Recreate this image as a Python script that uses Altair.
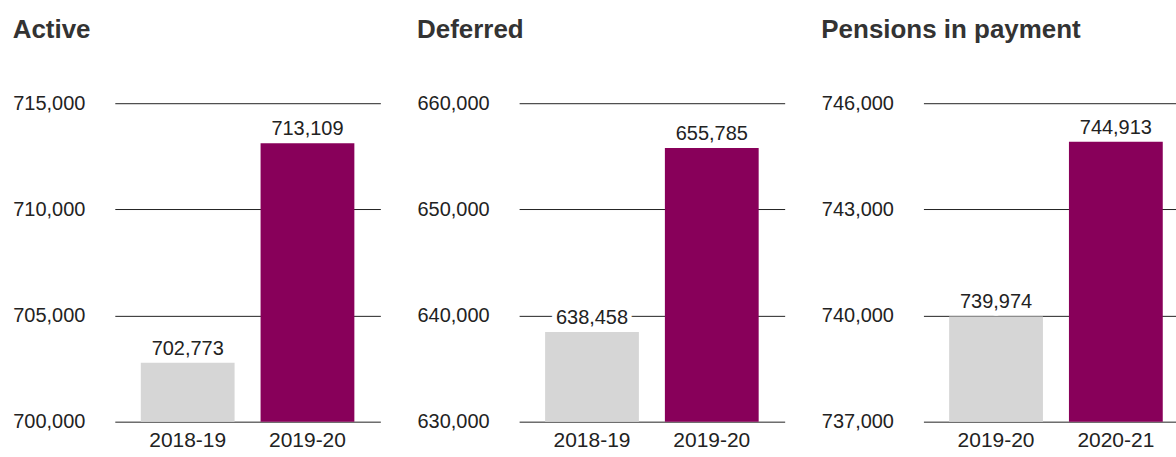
import altair as alt
import pandas as pd

titles = ["Active", "Deferred", "Pensions in payment"]
years_a = ["2018-19", "2019-20"]
values_a = [702773, 713109]
years_d = ["2018-19", "2019-20"]
values_d = [638458, 655785]
years_p = ["2019-20", "2020-21"]
values_p = [739974, 744913]
ticks_a = [700000, 705000, 710000, 715000]
ticks_d = [630000, 640000, 650000, 660000]
ticks_p = [737000, 740000, 743000, 746000]
kinds = ["previous", "current"]
colors = ["#d6d6d6", "#88005a"]

FONT = "Liberation Sans"
FS = 20


def panel(title, years, values, ticks, width, pad_outer=0.217, align=0.5):
    df = pd.DataFrame({
        "year": years,
        "value": values,
        "base": [ticks[0]] * len(years),
        "kind": kinds,
        "label": [f"{v:,}" for v in values],
    })
    x = alt.X("year:N", sort=years,
              scale=alt.Scale(paddingInner=0.217, paddingOuter=pad_outer, align=align),
              axis=alt.Axis(title=None, labelAngle=0, domain=False, ticks=False,
                            labelFontSize=21, labelColor="#222", labelPadding=8, labelFont=FONT))
    y = alt.Y("value:Q",
              scale=alt.Scale(domain=[ticks[0], ticks[-1]], zero=False, nice=False),
              axis=alt.Axis(title=None, values=ticks, format=",.0f", domain=False, ticks=False,
                            grid=True, gridColor="#222", gridWidth=1, gridOpacity=1,
                            labelFontSize=FS, labelColor="#222", labelPadding=30, labelFont=FONT))
    halo = alt.Chart(df).mark_text(baseline="alphabetic", dy=-8, fontSize=FS, font=FONT,
                                   stroke="white", strokeWidth=10, strokeJoin="round",
                                   color="white").encode(
        x=x, y=y, text="label:N")
    bars = alt.Chart(df).mark_bar().encode(
        x=x, y=y, y2="base:Q",
        color=alt.Color("kind:N", scale=alt.Scale(domain=kinds, range=colors), legend=None),
    )
    txt = alt.Chart(df).mark_text(baseline="alphabetic", dy=-8, fontSize=FS, font=FONT,
                                  color="#222").encode(
        x=x, y=y, text="label:N")
    return alt.layer(halo, bars, txt).properties(
        width=width, height=319,
        title=alt.TitleParams(title, anchor="start", frame="bounds", fontSize=26,
                              fontWeight="bold", color="#333", font=FONT, offset=50),
    )


chart = alt.hconcat(
    panel(titles[0], years_a, values_a, ticks_a, 266),
    panel(titles[1], years_d, values_d, ticks_d, 266),
    panel(titles[2], years_p, values_p, ticks_p, 253, pad_outer=0.1625, align=0.66),
    spacing=36,
).properties(
    padding={"left": 12, "top": 17, "right": 0, "bottom": 0},
    background="white",
).configure_view(stroke=None)

chart.save("out.html", embed_options={"renderer": "svg", "actions": False})
